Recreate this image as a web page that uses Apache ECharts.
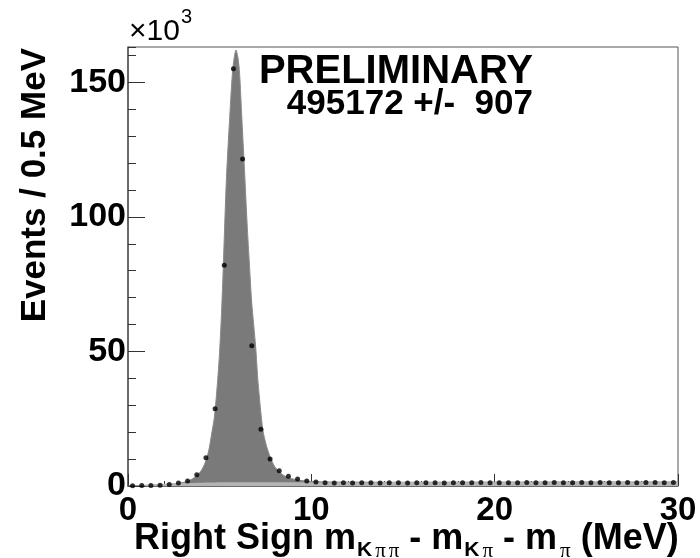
<!DOCTYPE html>
<html><head><meta charset="utf-8">
<script src="https://cdn.jsdelivr.net/npm/echarts@6/dist/echarts.min.js"></script>
<style>html,body{margin:0;padding:0;background:#fff}#c{width:700px;height:558px}</style>
</head><body><div id="c"></div>
<script>
// Bin centers (MeV), 0.5 MeV bins
const binCenters = [0.25,0.75,1.25,1.75,2.25,2.75,3.25,3.75,4.25,4.75,5.25,5.75,6.25,6.75,7.25,7.75,8.25,8.75,9.25,9.75,
  10.25,10.75,11.25,11.75,12.25,12.75,13.25,13.75,14.25,14.75,15.25,15.75,16.25,16.75,17.25,17.75,18.25,18.75,19.25,19.75,
  20.25,20.75,21.25,21.75,22.25,22.75,23.25,23.75,24.25,24.75,25.25,25.75,26.25,26.75,27.25,27.75,28.25,28.75,29.25,29.75];
// Events per bin (x10^3)
const binEvents = [0.1,0.2,0.2,0.3,0.6,1.1,1.9,4.2,10.5,28.7,82.0,155.0,121.5,52.1,21.1,10.0,5.7,3.6,2.6,1.9,
  1.5,1.2,1.1,1.2,1.1,1.2,1.2,1.1,1.2,1.2,1.1,1.2,1.2,1.2,1.1,1.2,1.2,1.2,1.3,1.2,
  1.2,1.2,1.2,1.3,1.2,1.2,1.3,1.2,1.2,1.3,1.2,1.3,1.2,1.2,1.3,1.2,1.3,1.3,1.2,1.3];
// Total fit curve
const fitX = [0,0.5,1,1.5,2,2.5,3,3.25,3.5,3.75,4,4.2,4.4,4.57,4.7,4.84,4.98,5.1,5.2,5.3,5.38,5.53,5.69,5.8,5.89,
  6.0,6.09,6.2,6.35,6.5,6.6,6.75,6.96,7.1,7.35,7.55,7.75,8.0,8.3,8.57,9,9.5,10,11,12,15,20,25,30];
const fitY = [0,0.15,0.25,0.35,0.5,0.8,1.3,1.8,2.6,3.8,5.8,8.5,13,19.7,25,35,48,64,82,102,116,135,153,159.5,162,
  159,153,138,118,97,85,68,52,38,21,15,10.9,7.2,5.0,3.6,2.6,2.0,1.7,1.5,1.45,1.4,1.45,1.5,1.5];
// Background component
const bkgX = [0,1,2,3,4,6,10,20,30];
const bkgY = [0,0.4,0.8,1.1,1.25,1.35,1.4,1.5,1.5];

const xTicks = [0,10,20,30];
const yTicks = [0,50,100,150];
const yMax = 163.1;

const chart = echarts.init(document.getElementById('c'), null, {renderer:'canvas'});
const FONT = '"Liberation Sans", Arial, Helvetica, sans-serif';
const SERIF = '"Liberation Serif", "DejaVu Serif", serif';
const pair = (xs, ys) => xs.map((x,i)=>[x, ys[i]]);

chart.setOption({
  animation:false,
  backgroundColor:'#fff',
  grid:{left:128, right:22, top:47, bottom:72, show:true, borderColor:'#555', borderWidth:1, backgroundColor:'transparent'},
  xAxis:{
    type:'value', min:0, max:30, interval:10,
    axisLine:{show:true, onZero:false, lineStyle:{color:'#555', width:1.5}},
    axisTick:{inside:true, length:12, lineStyle:{color:'#333', width:1}},
    minorTick:{show:true, splitNumber:5, length:5, lineStyle:{color:'#333', width:1}},
    splitLine:{show:false},
    axisLabel:{show:true, showMinLabel:true, showMaxLabel:true, margin:8, color:'#000', fontFamily:FONT, fontWeight:'bold', fontSize:33,
      formatter:v=> xTicks.includes(v) ? String(v) : ''}
  },
  yAxis:[{
    type:'value', min:0, max:yMax, interval:10,
    axisLine:{show:true, onZero:false, lineStyle:{color:'#555', width:1.5}},
    axisTick:{inside:true, length:8, lineStyle:{color:'#333', width:1}},
    splitLine:{show:false}, axisLabel:{show:false}
  },{
    type:'value', min:0, max:yMax, interval:50, position:'left',
    axisLine:{show:false},
    axisTick:{show:true, inside:true, length:17, customValues:yTicks, lineStyle:{color:'#333', width:1}},
    splitLine:{show:false},
    axisLabel:{show:true, customValues:yTicks, margin:2, color:'#000', fontFamily:FONT, fontWeight:'bold', fontSize:34}
  }],
  series:[
    {type:'line', name:'fit', data:pair(fitX, fitY), smooth:0.25, showSymbol:false, symbol:'none',
      lineStyle:{width:1, color:'#8a8a8a'}, areaStyle:{color:'#7a7a7a', opacity:1}, z:2, silent:true},
    {type:'line', name:'bkg', data:pair(bkgX, bkgY), smooth:0.3, showSymbol:false, symbol:'none',
      lineStyle:{width:0}, areaStyle:{color:'#b4b4b4', opacity:1}, z:3, silent:true},
    {type:'scatter', name:'data', data:pair(binCenters, binEvents), symbol:'circle', symbolSize:5,
      itemStyle:{color:'#000'}, z:5}
  ],
  graphic:[
    {type:'text', x:129, y:32, style:{text:'×10', font:'30px '+FONT, fill:'#000', textAlign:'left', textVerticalAlign:'middle'}},
    {type:'text', x:181, y:17, style:{text:'3', font:'20px '+FONT, fill:'#000', textAlign:'left', textVerticalAlign:'middle'}},
    {type:'text', x:533, y:72, style:{text:'PRELIMINARY', font:'bold 40px '+FONT, fill:'#000', textAlign:'right', textVerticalAlign:'middle'}},
    {type:'text', x:533, y:104, style:{text:'495172 +/-  907', font:'bold 35px '+FONT, fill:'#000', textAlign:'right', textVerticalAlign:'middle'}},
    {type:'text', x:35, y:48, rotation:Math.PI/2, style:{text:'Events / 0.5 MeV', font:'bold 35px '+FONT, fill:'#000', textAlign:'right', textVerticalAlign:'middle'}},
    {type:'text', x:134, y:539, style:{
      text:'{a|Right Sign m}{k|K}{p|π}{p|π}{a| - m}{k|K}{p|π}{a| - m}{p|π}{a| (MeV)}',
      textAlign:'left', textVerticalAlign:'middle', fill:'#000',
      rich:{
        a:{font:'bold 36px '+FONT, fill:'#000', lineHeight:40},
        k:{font:'bold 21px '+FONT, fill:'#000', lineHeight:40, padding:[22,0,0,1]},
        p:{font:'21px '+SERIF, fill:'#000', lineHeight:40, padding:[24,0,0,3]}
      }}}
  ]
});
</script></body></html>
